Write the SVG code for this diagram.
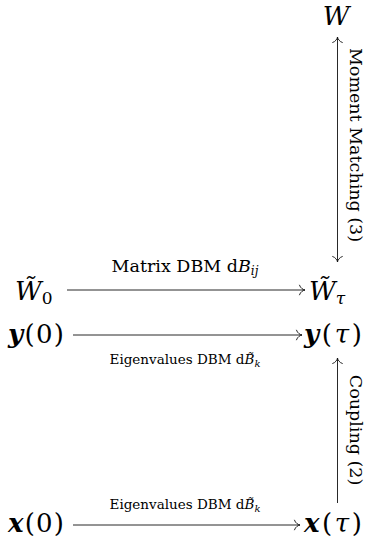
<svg xmlns="http://www.w3.org/2000/svg" width="372" height="542" viewBox="0 0 372 542" font-family="'DejaVu Serif','Liberation Serif',serif">
<style>
text{font-family:"DejaVu Serif","Liberation Serif",serif;fill:#000}
.m{font-size:26px}
.i{font-style:italic}
.b{font-weight:bold;font-style:italic}
.big{font-size:17.5px}
.sm{font-size:13.5px}
.ln{stroke:#111;stroke-width:0.9;fill:none}
</style>
<defs>
<marker id="ah" viewBox="-8 -6 10 12" markerWidth="10" markerHeight="12" refX="0" refY="0" orient="auto-start-reverse" markerUnits="userSpaceOnUse">
<path d="M-5.5,-4.8 C-4.6,-1.7 -1.6,-0.3 0,0 C-1.6,0.3 -4.6,1.7 -5.5,4.8" fill="none" stroke="#111" stroke-width="0.9" stroke-linecap="round"/>
</marker>
</defs>
<g id="connectors">
<line class="ln" x1="337.5" y1="262" x2="337.5" y2="37" marker-start="url(#ah)" marker-end="url(#ah)"/>
<line class="ln" x1="67" y1="290" x2="305" y2="290" marker-end="url(#ah)"/>
<line class="ln" x1="73" y1="335" x2="302" y2="335" marker-end="url(#ah)"/>
<line class="ln" x1="337.5" y1="503" x2="337.5" y2="358" marker-end="url(#ah)"/>
<line class="ln" x1="73" y1="525" x2="300" y2="525" marker-end="url(#ah)"/>
<text class="big" x="185" y="272" text-anchor="middle">Matrix DBM d<tspan class="i">B</tspan><tspan class="i" font-size="12" dy="3">ij</tspan></text>
<text class="sm" x="185" y="364" text-anchor="middle">Eigenvalues DBM d<tspan class="i">B̃</tspan><tspan class="i" font-size="10" dy="3">k</tspan></text>
<text class="sm" x="185" y="509" text-anchor="middle">Eigenvalues DBM d<tspan class="i">B̃</tspan><tspan class="i" font-size="10" dy="3">k</tspan></text>
<text class="big" transform="translate(356,145) rotate(90)" text-anchor="middle" dominant-baseline="central">Moment Matching (3)</text>
<text class="big" transform="translate(356,430) rotate(90)" text-anchor="middle" dominant-baseline="central">Coupling (2)</text>
</g>
<g id="W">
<text class="m i" x="336" y="25" text-anchor="middle">W</text>
</g>
<g id="Wt0">
<text class="m" x="15" y="300"><tspan class="i">W̃</tspan><tspan font-size="17" dy="4">0</tspan></text>
</g>
<g id="Wttau">
<text class="m" x="309" y="300"><tspan class="i">W̃</tspan><tspan class="i" font-size="17" dy="4">τ</tspan></text>
</g>
<g id="y0">
<text class="m" x="8" y="343" textLength="56" lengthAdjust="spacing"><tspan class="b">y</tspan>(0)</text>
</g>
<g id="ytau">
<text class="m" x="304" y="343" textLength="58" lengthAdjust="spacing"><tspan class="b">y</tspan>(<tspan class="i">τ</tspan>)</text>
</g>
<g id="x0">
<text class="m" x="8" y="532" textLength="56" lengthAdjust="spacing"><tspan class="b">x</tspan>(0)</text>
</g>
<g id="xtau">
<text class="m" x="304" y="532" textLength="58" lengthAdjust="spacing"><tspan class="b">x</tspan>(<tspan class="i">τ</tspan>)</text>
</g>
</svg>
